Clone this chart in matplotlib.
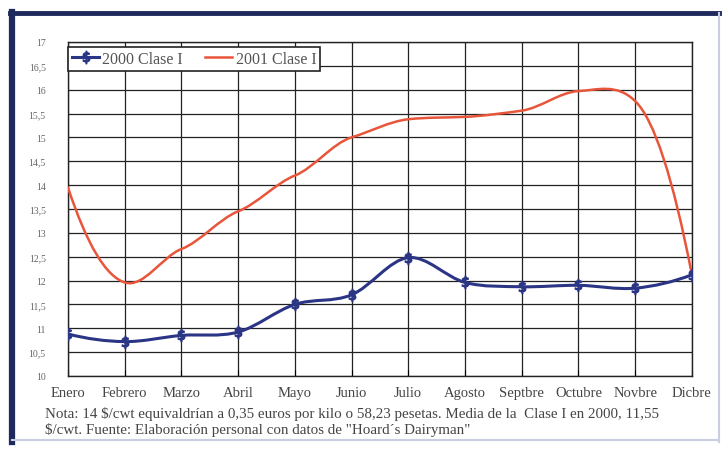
import matplotlib.pyplot as plt
from matplotlib.path import Path
from matplotlib.patches import PathPatch
from matplotlib.lines import Line2D

meses = ['Enero', 'Febrero', 'Marzo', 'Abril', 'Mayo', 'Junio', 'Julio',
         'Agosto', 'Septbre', 'Octubre', 'Novbre', 'Dicbre']
clase_2000 = [10.88, 10.72, 10.85, 10.92, 11.5, 11.7, 12.48, 11.96, 11.87, 11.9, 11.84, 12.12]
clase_2001 = [13.95, 11.96, 12.66, 13.45, 14.2, 15.0, 15.38, 15.43, 15.56, 15.97, 15.76, 12.12]
y_ticks = [10 + 0.5 * i for i in range(15)]
nota = ('Nota: 14 $/cwt equivaldrían a 0,35 euros por kilo o 58,23 pesetas. '
        'Media de la  Clase I en 2000, 11,55\n'
        '$/cwt. Fuente: Elaboración personal con datos de "Hoard´s Dairyman"')

AZUL = '#2b3585'
ROJO = '#e8553a'

plt.rcParams['font.family'] = ['Liberation Serif', 'DejaVu Serif']


def curva_suave(ax, xs, ys, color, lw, tension=1.0):
    # linea suavizada estilo Excel: bezier cubica (hermite -> bezier)
    n = len(ys)
    tang = [0.0] * n
    for i in range(1, n - 1):
        tang[i] = tension * (ys[i + 1] - ys[i - 1]) / 2
    tang[0] = 2 * (ys[1] - ys[0]) - tang[1]
    tang[-1] = 2 * (ys[-1] - ys[-2]) - tang[-2]
    verts = [(xs[0], ys[0])]
    codes = [Path.MOVETO]
    for i in range(n - 1):
        dx = xs[i + 1] - xs[i]
        verts += [(xs[i] + dx / 3, ys[i] + tang[i] / 3),
                  (xs[i + 1] - dx / 3, ys[i + 1] - tang[i + 1] / 3),
                  (xs[i + 1], ys[i + 1])]
        codes += [Path.CURVE4] * 3
    ax.add_patch(PathPatch(Path(verts, codes), fill=False, edgecolor=color,
                           lw=lw, capstyle='round', zorder=3))


fig = plt.figure(figsize=(7.23, 4.52), dpi=100)

# marco exterior
fig.add_artist(Line2D([0.0166, 0.0166], [0.02, 0.972], transform=fig.transFigure,
                      color='#1f2a5c', lw=4.5))
fig.add_artist(Line2D([0.0138, 0.995], [0.968, 0.968], transform=fig.transFigure,
                      color='#1f2a5c', lw=3.5))
fig.add_artist(Line2D([0.994, 0.994], [0.02, 0.968], transform=fig.transFigure,
                      color='#c9cfe0', lw=1.5))
fig.add_artist(Line2D([0.0166, 0.994], [0.025, 0.025], transform=fig.transFigure,
                      color='#c9cfe0', lw=1.5))

ax = fig.add_axes([0.094, 0.166, 0.863, 0.739])
x = list(range(len(meses)))

curva_suave(ax, x, clase_2001, ROJO, 1.8, tension=0.6)
curva_suave(ax, x, clase_2000, AZUL, 2.2)
ax.plot(x, clase_2000, linestyle='none', marker='$\\$$', markersize=9,
        color=AZUL, zorder=4)

ax.set_xlim(0, len(meses) - 1)
ax.set_ylim(10, 17)
ax.set_yticks(y_ticks)
ax.set_yticklabels([('%g' % v).replace('.', ',') for v in y_ticks],
                   fontsize=7, color='#666666')
ax.set_xticks(x)
ax.set_xticklabels(meses, fontsize=10.5, color='#444444')
ax.tick_params(axis='y', length=0, pad=16)
ax.tick_params(axis='x', length=4, direction='in', pad=7)
ax.grid(True, color='#222222', lw=0.9)
for s in ax.spines.values():
    s.set_color('#222222')
    s.set_linewidth(1.0)

h1 = Line2D([], [], color=AZUL, lw=2.2, marker='$\\$$', markersize=9)
h2 = Line2D([], [], color=ROJO, lw=1.8)
leg = ax.legend([h1, h2], ['2000 Clase I', '2001 Clase I'], ncol=2,
                loc='upper left', bbox_to_anchor=(0.0, 0.985), fancybox=False,
                framealpha=1, edgecolor='#222222', fontsize=11.5,
                handlelength=1.7, handletextpad=0.2, columnspacing=1.4,
                borderpad=0.25, borderaxespad=0)
leg.get_frame().set_linewidth(1.2)
for t in leg.get_texts():
    t.set_color('#555555')

fig.text(0.062, 0.1, nota, fontsize=10.8, color='#444444', va='top',
         linespacing=1.2)

fig.savefig('out.png', dpi=100)
